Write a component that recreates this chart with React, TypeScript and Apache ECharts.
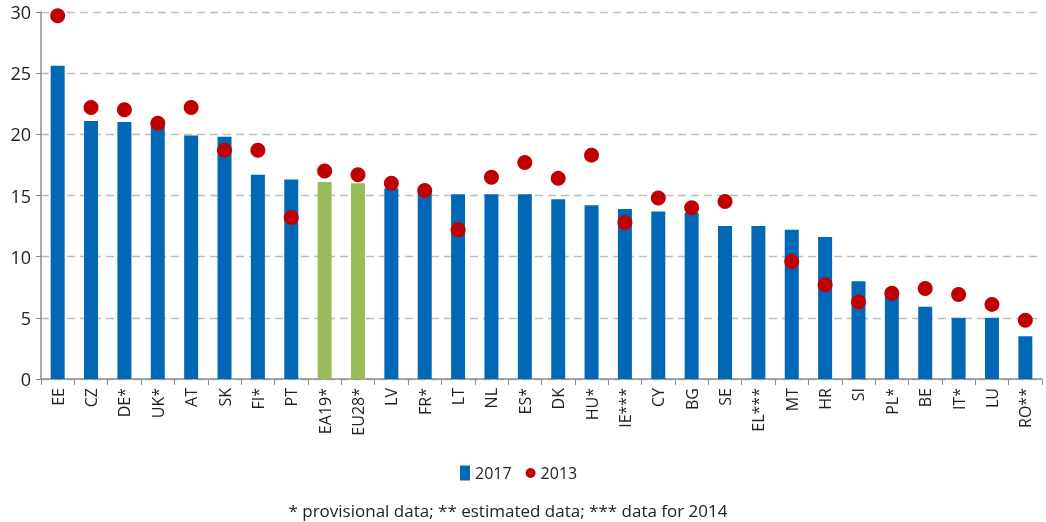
import React, { useEffect, useRef } from "react";
import * as echarts from "echarts";

const categories = ["EE","CZ","DE*","UK*","AT","SK","FI*","PT","EA19*","EU28*","LV","FR*","LT","NL","ES*","DK","HU*","IE***","CY","BG","SE","EL***","MT","HR","SI","PL*","BE","IT*","LU","RO**"];
const values2017 = [25.6,21.1,21.0,20.9,19.9,19.8,16.7,16.3,16.1,16.0,15.6,15.3,15.1,15.1,15.1,14.7,14.2,13.9,13.7,13.6,12.5,12.5,12.2,11.6,8.0,7.1,5.9,5.0,5.0,3.5];
const values2013 = [29.7,22.2,22.0,20.9,22.2,18.7,18.7,13.2,17.0,16.7,16.0,15.4,12.2,16.5,17.7,16.4,18.3,12.8,14.8,14.0,14.5,null,9.6,7.7,6.3,7.0,7.4,6.9,6.1,4.8];
const aggregates = ["EA19*","EU28*"];
const yTicks = [0,5,10,15,20,25,30];
const footnote = "* provisional data; ** estimated data; *** data for 2014";

const BLUE = "#0068b5";
const GREEN = "#9bbb59";
const RED = "#c00000";

export default function App() {
  const ref = useRef<HTMLDivElement>(null);
  useEffect(() => {
    if (!ref.current) return;
    const chart = echarts.init(ref.current, null, { renderer: "svg" });
    const font = "'Open Sans', 'Liberation Sans', sans-serif";
    chart.setOption({
      animation: false,
      textStyle: { fontFamily: font },
      grid: { left: 41, right: 4, top: 12, bottom: 143 },
      legend: {
        data: [
          { name: "2017", icon: "rect" },
          { name: "2013", icon: "circle" },
        ],
        left: 455,
        top: 460,
        itemWidth: 10,
        itemHeight: 15,
        itemGap: 14,
        textStyle: { fontSize: 16, color: "#222", fontFamily: font },
      },
      graphic: [
        {
          type: "text",
          x: 508,
          y: 510,
          style: {
            text: footnote,
            fontSize: 17,
            fontFamily: font,
            fill: "#222",
            textAlign: "center",
            textVerticalAlign: "middle",
          },
        },
      ],
      xAxis: {
        type: "category",
        data: categories,
        axisLine: { lineStyle: { color: "#8c8c8c", width: 1.5 } },
        axisTick: { show: true, length: 6, lineStyle: { color: "#8c8c8c" } },
        axisLabel: {
          rotate: 90,
          interval: 0,
          fontSize: 16,
          color: "#222",
          margin: 9,
          fontFamily: font,
        },
      },
      yAxis: {
        type: "value",
        min: 0,
        max: 30,
        interval: 5,
        axisLine: { show: true, lineStyle: { color: "#8c8c8c", width: 1.5 } },
        axisTick: { show: true, length: 5, lineStyle: { color: "#8c8c8c" } },
        axisLabel: {
          fontSize: 18,
          color: "#222",
          margin: 10,
          fontFamily: font,
          formatter: (v: number) => (yTicks.includes(v) ? String(v) : ""),
        },
        splitLine: { lineStyle: { color: "#bdbdbd", type: [8, 5], width: 1.3 } },
      },
      series: [
        {
          name: "2017",
          type: "bar",
          barWidth: 14,
          itemStyle: { color: BLUE },
          data: values2017.map((v, i) =>
            aggregates.includes(categories[i])
              ? { value: v, itemStyle: { color: GREEN } }
              : v
          ),
          z: 2,
        },
        {
          name: "2013",
          type: "scatter",
          symbol: "circle",
          symbolSize: 15,
          itemStyle: { color: RED, opacity: 1 },
          data: values2013,
          z: 3,
        },
      ],
    });
    return () => chart.dispose();
  }, []);
  return (
    <div
      ref={ref}
      style={{ position: "fixed", left: 0, top: 0, width: 1046, height: 522 }}
    />
  );
}
